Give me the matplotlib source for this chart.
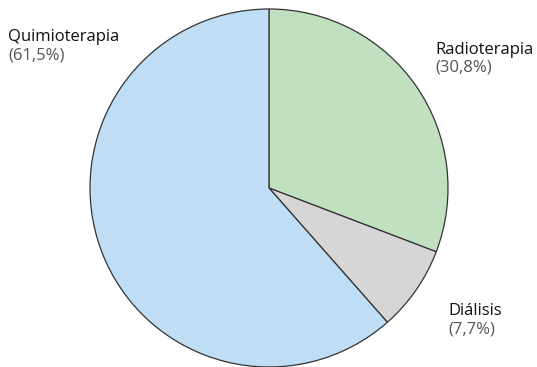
import matplotlib
matplotlib.use("Agg")
import matplotlib.pyplot as plt

# Datos del gráfico
categorias = ["Radioterapia", "Diálisis", "Quimioterapia"]
porcentajes = [30.8, 7.7, 61.5]
etiquetas_pct = ["(30,8%)", "(7,7%)", "(61,5%)"]
colores = ["#c0e0c0", "#d6d6d6", "#bfdef6"]

W, H = 537, 367
fig = plt.figure(figsize=(W/100, H/100), dpi=100)
# centro (269, 188.5) px, radio 179 px
ax = fig.add_axes([90/W, 0/H, 358/W, 358/H])
ax.pie(porcentajes, colors=colores, startangle=90, counterclock=False,
       radius=1.0, wedgeprops=dict(edgecolor="#333333", linewidth=0.9))
ax.set_xlim(-1.0, 1.0); ax.set_ylim(-1.0, 1.0)
ax.set_aspect("equal")
ax.axis("off")

plt.rcParams['font.family'] = ['Open Sans', 'DejaVu Sans']

# posiciones de etiquetas (px desde arriba-izquierda, línea base)
pos = {"Radioterapia": (435, 54), "Diálisis": (448, 315), "Quimioterapia": (8, 41)}
for cat, pct in zip(categorias, etiquetas_pct):
    x, y = pos[cat]
    fig.text(x/W, 1 - y/H, cat, fontsize=12, color="#111111", va="baseline", ha="left")
    fig.text(x/W, 1 - (y + 18)/H, pct, fontsize=12, color="#555555", va="baseline", ha="left")

fig.savefig("out.png", dpi=100)
